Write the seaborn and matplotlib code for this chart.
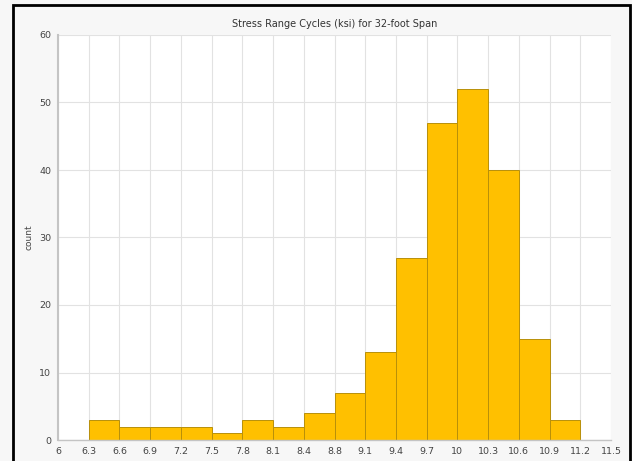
import numpy as np
import pandas as pd
import matplotlib
matplotlib.use("Agg")
import matplotlib.pyplot as plt
import seaborn as sns
from matplotlib.patches import Rectangle

# Bin edge labels (evenly spaced on the axis) and counts per bin
edge_labels = ['6', '6.3', '6.6', '6.9', '7.2', '7.5', '7.8', '8.1', '8.4', '8.8',
               '9.1', '9.4', '9.7', '10', '10.3', '10.6', '10.9', '11.2', '11.5']
counts = [0, 3, 2, 2, 2, 1, 3, 2, 4, 7, 13, 27, 47, 52, 40, 15, 3, 0]
y_ticks = [0, 10, 20, 30, 40, 50, 60]

sns.set_style("white")
plt.rcParams['font.family'] = ['DejaVu Sans']

fig = plt.figure(figsize=(6.32, 4.61), dpi=100)
fig.patch.set_facecolor('#f7f7f7')

# outer black frame
fig.patches.append(Rectangle((12.5 / 632, -0.05), 617.5 / 632, 1.05 - 5.5 / 461,
                             transform=fig.transFigure, fill=False,
                             edgecolor='black', linewidth=2))

ax = fig.add_axes([58 / 632, 1 - 440 / 461, (611 - 58) / 632, (440 - 35) / 461])
ax.set_facecolor('white')

n_bins = len(counts)
df = pd.DataFrame({'pos': np.arange(n_bins) + 0.5, 'count': counts})
sns.histplot(data=df, x='pos', weights='count', binwidth=1, binrange=(0, n_bins),
             ax=ax, color='#ffc000', alpha=1.0, edgecolor='#b8900a', linewidth=0.7)

ax.set_xlim(0, n_bins)
ax.set_ylim(0, 60)
ax.set_xticks(range(len(edge_labels)))
ax.set_xticklabels(edge_labels)
ax.set_yticks(y_ticks)
ax.tick_params(axis='both', labelsize=6.8, colors='#999999', length=3, width=0.6,
               direction='out', pad=2)
ax.tick_params(axis='both', labelcolor='#444444')
ax.grid(True, color='#e2e2e2', linewidth=0.8)
ax.set_axisbelow(True)

for s in ['top', 'right']:
    ax.spines[s].set_visible(False)
ax.spines['left'].set_color('#c4c4c4')
ax.spines['left'].set_linewidth(1.5)
ax.spines['bottom'].set_color('#c4c4c4')
ax.spines['bottom'].set_linewidth(1.0)

ax.set_xlabel('')
ax.set_ylabel('count', fontsize=6.5, color='#444444', labelpad=4)
ax.set_title('Stress Range Cycles (ksi) for 32-foot Span', fontsize=7,
             color='#333333', pad=6)

fig.savefig('out.png', dpi=100, facecolor=fig.get_facecolor())
